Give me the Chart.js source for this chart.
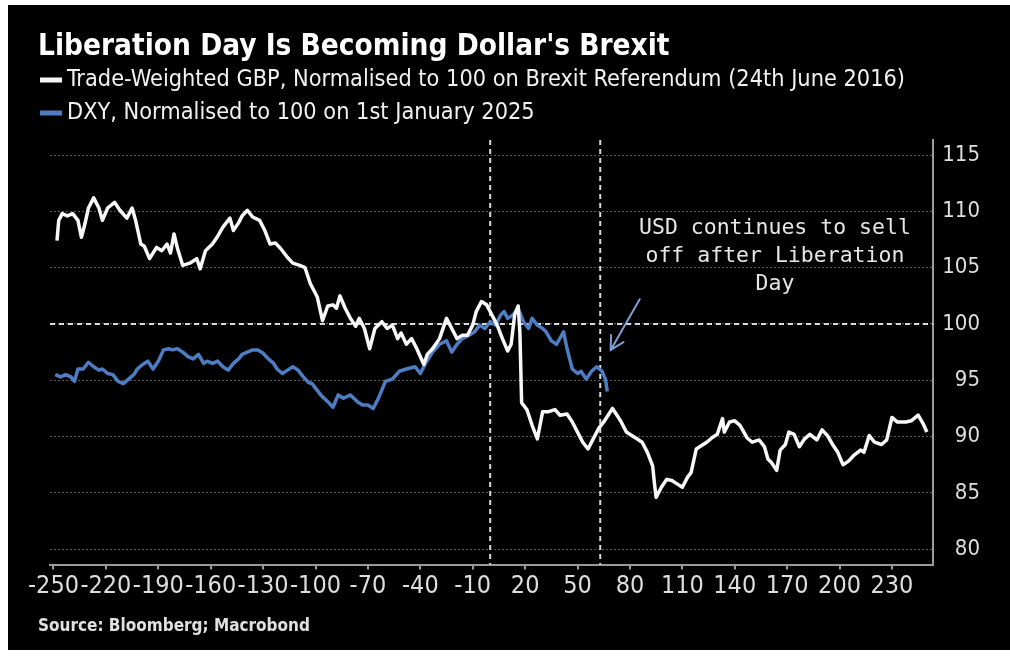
<!DOCTYPE html>
<html>
<head>
<meta charset="utf-8">
<title>Liberation Day Is Becoming Dollar's Brexit</title>
<script src="https://cdn.jsdelivr.net/npm/chart.js@4.4.1/dist/chart.umd.min.js"></script>
<style>
  html, body { margin: 0; padding: 0; background: #fff; }
  #wrap { position: absolute; left: 8px; top: 5px; width: 1002px; height: 645px; background: #000; }
</style>
</head>
<body>
<div id="wrap"><canvas id="fxChart"></canvas></div>
<script>
// trading days relative to the event date
var gbpDays = [-248,-247,-245,-242,-239,-236,-234,-232,-230,-227,-224,-222,-219,-215,-212,-208,-205,-203,-200,-198,
  -195,-191,-188,-185,-183,-181,-179,-176,-172,-168,-166,-163,-159,-156,-153,-149,-147,-144,-142,-139,
  -136,-132,-129,-126,-123,-120,-116,-113,-109,-106,-103,-99,-96,-93,-90,-88,-86,-83,-80,-77,
  -75,-72,-69,-66,-62,-59,-56,-53,-51,-48,-45,-42,-38,-36,-33,-29,-25,-22,-19,-16,
  -13,-10,-8,-5,-2,1,4,7,10,12,14,16,17,18,21,24,27,30,33,37,
  40,44,47,50,53,56,59,62,65,70,73,75,78,81,84,87,90,93,94,95,
  98,101,104,107,110,113,115,118,121,124,127,130,133,134,137,140,143,147,150,154,
  157,159,161,164,166,169,171,174,177,180,183,187,190,193,196,199,202,205,208,212,
  214,217,220,224,227,230,233,236,238,241,245,248,250];
var gbpIndex = [107.4,109.2,109.8,109.6,109.8,109.2,107.7,108.9,110.3,111.2,110.3,109.2,110.3,110.8,110.1,109.4,110.3,109.2,107.1,106.9,
  105.8,106.8,106.5,107.1,106.3,108.0,106.7,105.2,105.4,105.8,104.9,106.5,107.1,107.8,108.6,109.4,108.3,109.0,109.6,110.1,
  109.5,109.2,108.3,107.1,107.2,106.7,105.9,105.4,105.2,105.0,103.6,102.4,100.3,101.6,101.7,101.4,102.5,101.4,100.5,99.8,
  100.5,99.6,97.8,99.6,100.2,99.6,99.9,98.7,99.2,98.2,98.7,97.8,96.4,97.3,97.8,98.7,100.5,99.6,98.7,99.0,
  99.0,99.9,101.1,102.0,101.7,100.8,99.9,98.7,97.6,98.2,100.8,101.6,99.3,93.0,92.4,91.0,89.8,92.2,92.2,92.4,
  91.9,92.0,91.3,90.4,89.5,88.9,89.8,90.7,91.3,92.5,91.8,91.3,90.4,90.1,89.8,89.5,88.6,87.4,85.9,84.6,
  85.5,86.2,86.1,85.8,85.5,86.4,86.8,88.9,89.2,89.5,89.9,90.2,91.6,90.4,91.3,91.4,91.0,89.9,89.5,89.7,
  89.1,88.0,87.7,87.0,88.8,89.3,90.4,90.2,89.1,89.8,90.2,89.7,90.6,90.1,89.3,88.6,87.5,87.8,88.3,88.8,
  88.6,90.1,89.5,89.3,89.7,91.7,91.3,91.3,91.3,91.4,91.9,91.1,90.4];

var dxyDays = [-249,-246,-243,-240,-238,-236,-233,-230,-227,-224,-222,-219,-216,-213,-210,-207,-204,-202,-199,-196,
  -193,-190,-187,-184,-182,-179,-176,-173,-170,-167,-164,-162,-159,-156,-153,-150,-147,-144,-142,-139,
  -136,-133,-130,-127,-124,-122,-119,-116,-113,-110,-107,-104,-102,-97,-93,-90,-87,-84,-80,-76,
  -73,-70,-67,-64,-60,-56,-52,-48,-43,-40,-37,-33,-29,-25,-22,-19,-16,-12,-9,-6,
  -3,0,3,6,8,10,13,16,19,22,24,27,30,32,35,38,42,44,47,50,
  52,55,58,61,64,66,67];
var dxyIndex = [95.5,95.3,95.5,95.3,94.9,96.0,96.0,96.6,96.2,95.9,96.0,95.6,95.5,94.9,94.7,95.1,95.5,96.0,96.4,96.7,
  96.0,96.7,97.7,97.8,97.7,97.8,97.5,97.1,96.9,97.3,96.5,96.7,96.5,96.7,96.2,95.9,96.5,96.9,97.3,97.5,
  97.7,97.7,97.4,96.9,96.5,96.0,95.6,95.9,96.2,95.9,95.3,94.8,94.7,93.7,93.1,92.6,93.7,93.4,93.7,93.1,
  92.8,92.8,92.5,93.4,94.9,95.1,95.8,96.0,96.2,95.6,96.5,97.5,98.2,98.5,97.5,98.2,98.7,99.0,99.3,99.9,
  99.6,100.2,99.9,100.8,101.1,100.5,100.8,101.4,100.2,99.6,100.5,99.9,99.6,99.3,98.5,98.2,99.3,97.8,96.0,95.6,
  95.8,95.1,95.8,96.2,95.8,95.1,94.0];

var xTicks = [-250,-220,-190,-160,-130,-100,-70,-40,-10,20,50,80,110,140,170,200,230];
var yTicks = [80,85,90,95,100,105,110,115];

var baseLevel = 100;      // both series rebased to 100
var eventDays = [0, 63];  // referendum / Liberation Day markers

var noteLines = ['USD continues to sell', 'off after Liberation', 'Day'];
var notePos = {x: 163, y: 108.45};
var arrowFrom = {x: 85.6, y: 102.2};
var arrowTo = {x: 69, y: 97.7};

var COND = '"DejaVu Sans Condensed", "DejaVu Sans", sans-serif';
var MONO = '"DejaVu Sans Mono", monospace';

function points(days, vals) {
  return days.map(function (d, i) { return {x: d, y: vals[i]}; });
}

// dashed reference lines, the note with its arrow, and the legend rows
var extras = {
  id: 'extras',
  beforeDatasetsDraw: function (chart) {
    var ctx = chart.ctx, a = chart.chartArea, x = chart.scales.x, y = chart.scales.y;
    ctx.save();
    ctx.strokeStyle = '#d9d9d9';
    ctx.lineWidth = 2;
    ctx.setLineDash([5, 4]);
    var py = y.getPixelForValue(baseLevel);
    ctx.beginPath();
    ctx.moveTo(a.left, py);
    ctx.lineTo(a.right, py);
    ctx.stroke();
    eventDays.forEach(function (d) {
      var px = x.getPixelForValue(d);
      ctx.beginPath();
      ctx.moveTo(px, a.top);
      ctx.lineTo(px, a.bottom);
      ctx.stroke();
    });
    ctx.restore();
  },
  afterDatasetsDraw: function (chart) {
    var ctx = chart.ctx, x = chart.scales.x, y = chart.scales.y;
    ctx.save();
    ctx.fillStyle = '#e6e6e6';
    ctx.font = '21.5px ' + MONO;
    ctx.textAlign = 'center';
    ctx.textBaseline = 'middle';
    var nx = x.getPixelForValue(notePos.x), ny = y.getPixelForValue(notePos.y);
    noteLines.forEach(function (t, i) { ctx.fillText(t, nx, ny + i * 28); });

    var x1 = x.getPixelForValue(arrowFrom.x), y1 = y.getPixelForValue(arrowFrom.y);
    var x2 = x.getPixelForValue(arrowTo.x), y2 = y.getPixelForValue(arrowTo.y);
    var ang = Math.atan2(y1 - y2, x1 - x2);
    ctx.strokeStyle = '#7d9fd3';
    ctx.lineWidth = 2;
    ctx.lineCap = 'round';
    ctx.beginPath();
    ctx.moveTo(x1, y1);
    ctx.lineTo(x2, y2);
    ctx.moveTo(x2 + 15 * Math.cos(ang - 0.5), y2 + 15 * Math.sin(ang - 0.5));
    ctx.lineTo(x2, y2);
    ctx.lineTo(x2 + 15 * Math.cos(ang + 0.5), y2 + 15 * Math.sin(ang + 0.5));
    ctx.stroke();
    ctx.restore();
  },
  afterDraw: function (chart) {
    var ctx = chart.ctx;
    ctx.save();
    ctx.font = '23.3px ' + COND;
    ctx.textBaseline = 'middle';
    chart.data.datasets.forEach(function (ds, i) {
      var ly = 75 + i * 33;
      ctx.strokeStyle = ds.borderColor;
      ctx.lineWidth = 5;
      ctx.beginPath();
      ctx.moveTo(32, ly);
      ctx.lineTo(54, ly);
      ctx.stroke();
      ctx.fillStyle = '#f2f2f2';
      ctx.fillText(ds.label, 59, ly);
    });
    ctx.restore();
  }
};

new Chart(document.getElementById('fxChart'), {
  type: 'line',
  data: {
    datasets: [{
      label: 'Trade-Weighted GBP, Normalised to 100 on Brexit Referendum (24th June 2016)',
      data: points(gbpDays, gbpIndex),
      borderColor: '#f7f7f7',
      borderWidth: 3.5,
      pointRadius: 0,
      tension: 0,
      borderJoinStyle: 'round'
    }, {
      label: 'DXY, Normalised to 100 on 1st January 2025',
      data: points(dxyDays, dxyIndex),
      borderColor: '#4d7ec4',
      borderWidth: 3.5,
      pointRadius: 0,
      tension: 0,
      borderJoinStyle: 'round'
    }]
  },
  options: {
    responsive: true,
    maintainAspectRatio: false,
    animation: false,
    layout: { padding: { left: 30, right: 30, top: 25, bottom: 13 } },
    plugins: {
      legend: { display: false },
      tooltip: { enabled: false },
      title: {
        display: true,
        text: "Liberation Day Is Becoming Dollar's Brexit",
        align: 'start',
        color: '#ffffff',
        font: { family: COND, size: 29.5, weight: 'bold', lineHeight: 1.2 },
        padding: { top: 0, bottom: 74.6 }
      },
      subtitle: {
        display: true,
        text: 'Source: Bloomberg; Macrobond',
        position: 'bottom',
        align: 'start',
        color: '#e0e0e0',
        font: { family: COND, size: 17, weight: 'bold', lineHeight: 1.2 },
        padding: { top: 13, bottom: 0 }
      }
    },
    scales: {
      x: {
        type: 'linear',
        min: -252,
        max: 253.5,
        afterBuildTicks: function (axis) { axis.ticks = xTicks.map(function (v) { return {value: v}; }); },
        afterFit: function (axis) { axis.paddingLeft = 42; axis.paddingRight = 0; },
        grid: { drawOnChartArea: false, drawTicks: true, tickLength: 5, color: '#9a9a9a', lineWidth: 2 },
        border: { color: '#9a9a9a', width: 2 },
        ticks: {
          color: '#dedede',
          font: { family: COND, size: 25 },
          padding: 2,
          maxRotation: 0,
          autoSkip: false,
          callback: function (v) { return String(v); }
        }
      },
      y: {
        position: 'right',
        min: 78.63,
        max: 116.34,
        afterBuildTicks: function (axis) { axis.ticks = yTicks.map(function (v) { return {value: v}; }); },
        afterFit: function (axis) { axis.width = 47; },
        grid: { color: 'rgba(200,200,200,0.45)', lineWidth: 1, drawTicks: false },
        border: { color: '#9a9a9a', width: 2, dash: [2, 2] },
        ticks: {
          color: '#dedede',
          font: { family: COND, size: 22 },
          padding: 10,
          crossAlign: 'far'
        }
      }
    }
  },
  plugins: [extras]
});
</script>
</body>
</html>
